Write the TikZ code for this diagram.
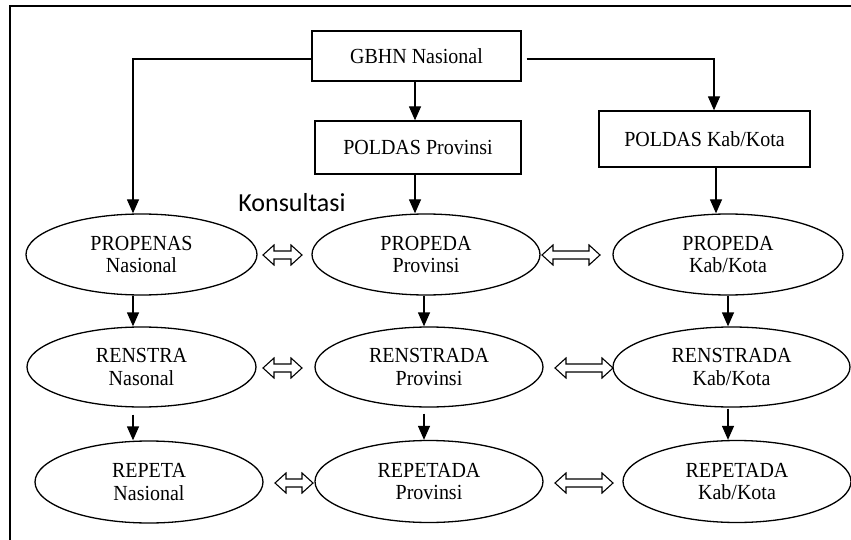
\documentclass[tikz,border=0pt]{standalone}
\usepackage{fontspec}
\setmainfont[FakeStretch=0.93]{Liberation Serif}
\newfontfamily\konsfont{Carlito}
\usetikzlibrary{shapes.geometric,arrows.meta}

% hollow two-headed block arrow: left x, right x, centre y
\newcommand{\hollowarrow}[3]{%
  \draw[hollow] (#1,#3) -- (#1+11,#3-10) -- (#1+11,#3-4) -- (#2-11,#3-4)
    -- (#2-11,#3-10) -- (#2,#3) -- (#2-11,#3+10) -- (#2-11,#3+4)
    -- (#1+11,#3+4) -- (#1+11,#3+10) -- cycle;}

\begin{document}
\begin{tikzpicture}[x=1pt,y=-1pt,
  lw/.style={line width=1.3pt},
  box/.style={draw,lw,rectangle,inner sep=0pt,font=\fontsize{21.5}{23}\selectfont},
  oval/.style={draw,lw,ellipse,inner sep=0pt,align=center,font=\fontsize{21.5}{22.5}\selectfont},
  arr/.style={lw,-{Triangle[length=14pt,width=12pt]}},
  hollow/.style={draw,line width=1.1pt,line join=miter,fill=white}]
\useasboundingbox (0,0) rectangle (851,540);

% outer frame
\draw[line width=1.5pt] (10,545) -- (10,6) -- (856,6);

% policy boxes
\node[box,minimum width=209pt,minimum height=50pt] (gbhn) at (416.5,56) {GBHN Nasional};
\node[box,minimum width=206pt,minimum height=53pt] (poldasp) at (418,147.5) {POLDAS Provinsi};
\node[box,minimum width=211pt,minimum height=56pt] (poldask) at (704.5,139) {POLDAS Kab/Kota};

% planning documents
\node[oval,minimum width=231pt,minimum height=81pt] (propenas) at (141.5,254.5) {PROPENAS\\Nasional};
\node[oval,minimum width=228pt,minimum height=81pt] (propedap) at (426,254.5) {PROPEDA\\Provinsi};
\node[oval,minimum width=230pt,minimum height=81pt] (propedak) at (728,254.5) {PROPEDA\\Kab/Kota};
\node[oval,minimum width=229pt,minimum height=80pt] (renstra) at (141.5,367) {RENSTRA\\Nasonal};
\node[oval,minimum width=228pt,minimum height=80pt] (renstradap) at (429,367) {RENSTRADA\\Provinsi};
\node[oval,minimum width=237pt,minimum height=80pt] (renstradak) at (731.5,367) {RENSTRADA\\Kab/Kota};
\node[oval,minimum width=228pt,minimum height=82pt] (repeta) at (149,482) {REPETA\\Nasional};
\node[oval,minimum width=228pt,minimum height=82pt] (repetadap) at (429,481.5) {REPETADA\\Provinsi};
\node[oval,minimum width=228pt,minimum height=82pt] (repetadak) at (737,481.5) {REPETADA\\Kab/Kota};

\node[font=\konsfont\fontsize{26}{30}\selectfont,inner sep=0pt] (kons) at (292,203) {Konsultasi};

% routing columns
\coordinate (cl) at (133,59);
\coordinate (cr) at (714,59);
\coordinate (cp) at (415,0);
\coordinate (ck) at (716,0);
\coordinate (c1) at (133,0);
\coordinate (c2) at (424,0);
\coordinate (c3) at (728,0);

% top-down flow
\draw[arr] (gbhn.west |- cl) -- (cl) -- (propenas.north -| cl);
\draw[arr,shorten <=5pt] (gbhn.east |- cr) -- (cr) -- (poldask.north -| cr);
\draw[arr] (gbhn.south -| cp) -- (poldasp.north -| cp);
\draw[arr] (poldasp.south -| cp) -- (propedap.north -| cp);
\draw[arr] (poldask.south -| ck) -- (propedak.north -| ck);

\draw[arr] (propenas.south -| c1) -- (renstra.north -| c1);
\draw[arr,shorten <=7pt] (renstra.south -| c1) -- (repeta.north -| c1);
\draw[arr] (propedap.south -| c2) -- (renstradap.north -| c2);
\draw[arr,shorten <=6pt] (renstradap.south -| c2) -- (repetadap.north -| c2);
\draw[arr] (propedak.south -| c3) -- (renstradak.north -| c3);
\draw[arr,shorten <=1pt] (renstradak.south -| c3) -- (repetadak.north -| c3);

% consultation links
\hollowarrow{263}{302}{255}
\hollowarrow{542}{600}{255}
\hollowarrow{263}{302}{368}
\hollowarrow{555}{613}{368}
\hollowarrow{275}{313}{483}
\hollowarrow{555}{613}{483}
\end{tikzpicture}
\end{document}
